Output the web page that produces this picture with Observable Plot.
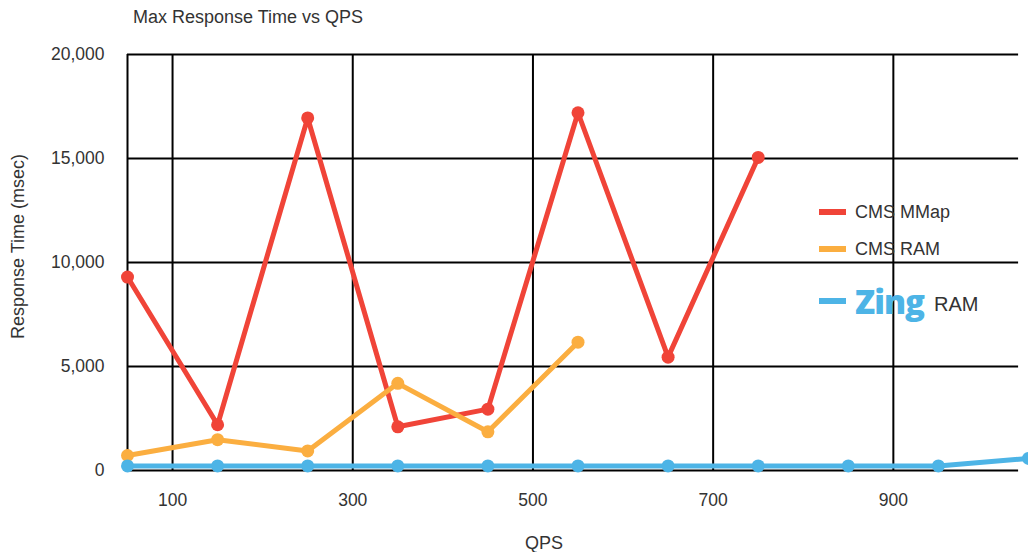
<!DOCTYPE html>
<html>
<head>
<meta charset="utf-8">
<script src="https://cdn.jsdelivr.net/npm/d3@7"></script>
<script src="https://cdn.jsdelivr.net/npm/@observablehq/plot@0.6"></script>
<style>
  html, body { margin: 0; padding: 0; background: #fff; }
  body { width: 1028px; height: 552px; position: relative; overflow: hidden; font-family: "Liberation Sans", Arial, sans-serif; }
  #title { position: absolute; left: 133px; top: 7px; font-size: 18px; color: #333; }
  #chart { position: absolute; left: 0; top: 0; }
  .leg { position: absolute; height: 20px; display: flex; align-items: center; color: #333; font-size: 18px; white-space: nowrap; }
  .sw { display: inline-block; width: 27px; height: 6px; margin-right: 9px; }
</style>
</head>
<body>
<div id="chart"></div>
<div id="title">Max Response Time vs QPS</div>
<div id="legend"></div>
<script>
// Data
const qps = [50, 150, 250, 350, 450, 550, 650, 750, 850, 950, 1050];
const cmsMMap = [9300, 2200, 16950, 2100, 2950, 17200, 5450, 15050];
const cmsRAM = [720, 1480, 940, 4190, 1860, 6170];
const zingRAM = [220, 220, 220, 220, 220, 220, 220, 220, 220, 220, 580];
const xTicks = [100, 300, 500, 700, 900];
const yTicks = [0, 5000, 10000, 15000, 20000];
const seriesNames = ["CMS MMap", "CMS RAM", "Zing RAM"];
const colors = ["#F04438", "#FBAE40", "#4DB4E6"];

const rows = [];
[cmsMMap, cmsRAM, zingRAM].forEach((vals, s) => {
  vals.forEach((v, i) => rows.push({series: seriesNames[s], qps: qps[i], value: v}));
});

const chart = Plot.plot({
  width: 1028,
  height: 552,
  marginLeft: 127,
  marginRight: 0,
  marginTop: 54,
  marginBottom: 82,
  style: {fontFamily: "'Liberation Sans', Arial, sans-serif", fontSize: "17.5px", color: "#333", background: "#fff"},
  x: {domain: [50, 1050], label: null},
  y: {domain: [0, 20000], label: null},
  color: {domain: seriesNames, range: colors},
  marks: [
    Plot.ruleX(xTicks, {stroke: "#000", strokeWidth: 2}),
    Plot.ruleX([50], {stroke: "#000", strokeWidth: 2}),
    Plot.ruleY(yTicks, {x1: 50, x2: 1039, stroke: "#000", strokeWidth: 2}),
    Plot.axisX({ticks: xTicks, tickSize: 0, tickPadding: 23, tickFormat: d => d, fontSize: 17.5, label: null}),
    Plot.axisY({ticks: yTicks, tickSize: 0, tickPadding: 23, tickFormat: d3.format(","), fontSize: 17.5, label: null}),
    Plot.line(rows, {x: "qps", y: "value", z: "series", stroke: "series", strokeWidth: 5, strokeLinejoin: "round", strokeLinecap: "round"}),
    Plot.dot(rows, {x: "qps", y: "value", fill: "series", r: 6.5}),
    Plot.text(["QPS"], {frameAnchor: "bottom", dx: -34, dy: 78, fontSize: 18, fill: "#333"}),
    Plot.text(["Response Time (msec)"], {frameAnchor: "left", textAnchor: "middle", dx: -109, dy: -16, rotate: -90, fontSize: 18, fill: "#333"})
  ]
});
document.getElementById("chart").appendChild(chart);

// Legend
const legend = document.getElementById("legend");
legend.innerHTML = `
  <div class="leg" style="left:819px; top:202px;"><span class="sw" style="background:${colors[0]}"></span>${seriesNames[0]}</div>
  <div class="leg" style="left:819px; top:239px;"><span class="sw" style="background:${colors[1]}"></span>${seriesNames[1]}</div>
  <div class="leg" style="left:819px; top:291px;"><span class="sw" style="background:${colors[2]}"></span><span style="font-family:'Open Sans',sans-serif;font-weight:800;font-size:33px;color:${colors[2]};letter-spacing:-1px;margin-right:10px;">Zing</span><span style="font-size:20px;color:#333;position:relative;top:3px;">RAM</span></div>
`;
</script>
</body>
</html>
